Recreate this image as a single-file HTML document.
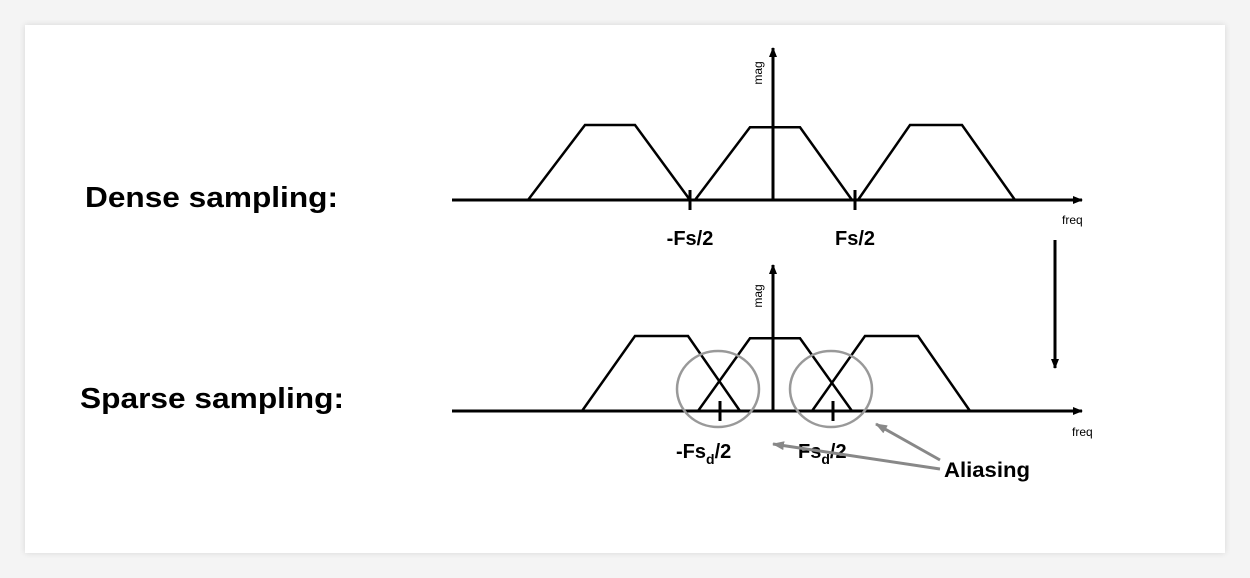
<!DOCTYPE html>
<html><head><meta charset="utf-8"><style>
html,body{margin:0;padding:0;background:#f4f4f4;width:1250px;height:578px;overflow:hidden}
#card{position:absolute;left:25px;top:25px;width:1200px;height:528px;background:#fff;box-shadow:0 0 6px rgba(0,0,0,0.12)}
svg{position:absolute;left:0;top:0}
text{font-family:"Liberation Sans",Arial,sans-serif}
</style></head><body>
<div id="card"></div>
<svg id="s" width="1250" height="578">
<defs>
<marker id="ah" markerWidth="10" markerHeight="8" refX="9" refY="4" orient="auto" markerUnits="userSpaceOnUse"><path d="M0,0 L10,4 L0,8 z" fill="#000"/></marker>
<marker id="ag" markerWidth="12" markerHeight="9" refX="11" refY="4.5" orient="auto" markerUnits="userSpaceOnUse"><path d="M0,0 L12,4.5 L0,9 z" fill="#888"/></marker>
</defs>
<text x="85" y="207" font-size="29" font-weight="bold" textLength="253" lengthAdjust="spacingAndGlyphs">Dense sampling:</text>
<text x="80" y="408" font-size="29" font-weight="bold" textLength="264" lengthAdjust="spacingAndGlyphs">Sparse sampling:</text>
<g id="plots"></g>
<line x1="1055" y1="240" x2="1055" y2="368" stroke="#000" stroke-width="3" marker-end="url(#ah)"/>
</svg>
<script>
// trapezoid spectra: [baseStart, topStart, topEnd, baseEnd] in frequency units
const denseSpectra=[[-245,-188,-138,-83],[-78,-23,27,79],[85,137,189,242]];
const sparseSpectra=[[-191,-138,-85,-33],[-75,-23,27,79],[39,92,145,197]];
const denseTicks=[-83,82];
const sparseTicks=[-53,60];
const denseTickLabels=["-Fs/2","Fs/2"];
const sparseTickLabels=["-Fs","Fs"];
const peakLevel=[1,0.98];
const g=document.getElementById('plots');
const NS='http://www.w3.org/2000/svg';
function el(t,a,p){const e=document.createElementNS(NS,t);for(const k in a)e.setAttribute(k,a[k]);(p||g).appendChild(e);return e;}
function panel(spectra,ticks,labels,axisY,level,sub,name){
  const x=f=>773+f;
  const y=v=>axisY-v*75;
  const grp=el('g',{});
  
  
  const xa=el('line',{x1:452,y1:axisY,x2:1082,y2:axisY,stroke:'#000','stroke-width':3,'marker-end':'url(#ah)'},grp);
  
  
  const ya=el('line',{x1:773,y1:axisY,x2:773,y2:axisY-(sub?146:152),stroke:'#000','stroke-width':3,'marker-end':'url(#ah)'},grp);
  
  
  spectra.forEach((s,i)=>{
    const lv=i===1?level[1]:level[0];
    const p=el('polyline',{points:`${x(s[0])},${axisY} ${x(s[1])},${y(lv)} ${x(s[2])},${y(lv)} ${x(s[3])},${axisY}`,fill:'none',stroke:'#000','stroke-width':2.5,'stroke-linejoin':'miter'},grp);
    
    
  });
  ticks.forEach((t,i)=>{
    const tk=el('line',{x1:x(t),y1:axisY-10,x2:x(t),y2:axisY+10,stroke:'#000','stroke-width':3},grp);
    
    
    const tx=el('text',{x:x(t)+(sub?(i?-35:-44):0),y:axisY+(sub?47:45),'font-size':20,'font-weight':'bold','text-anchor':sub?'start':'middle'},grp);
    
    
    if(sub){
      tx.textContent=labels[i];
      const ts=el('tspan',{dy:6,'font-size':14},tx);ts.textContent='d';
      const t2=el('tspan',{dy:-6},tx);t2.textContent='/2';
    } else tx.textContent=labels[i];
  });
  const m=el('text',{x:0,y:0,'font-size':12,transform:`translate(762,${axisY-(sub?115:127)}) rotate(-90)`,'text-anchor':'middle'},grp);
  m.textContent='mag';
  
  
  const f=el('text',{x:sub?1072:1062,y:axisY+(sub?25:24),'font-size':12},grp);
  f.textContent='freq';
  
  
  return {x,axisY};
}
panel(denseSpectra,denseTicks,denseTickLabels,200,[1,0.97],false,'dense-panel');
const sp=panel(sparseSpectra,sparseTicks,sparseTickLabels,411,[1,0.97],true,'sparse-panel');
sparseTicks.forEach((t,i)=>{
  const c=el('ellipse',{cx:sp.x(t)-2,cy:389,rx:41,ry:38,fill:'none',stroke:'#999','stroke-width':2.5});
  
  
});
const a1=el('line',{x1:940,y1:460,x2:876,y2:424,stroke:'#888','stroke-width':3,'marker-end':'url(#ag)'});


const a2=el('line',{x1:940,y1:469,x2:773,y2:444,stroke:'#888','stroke-width':3,'marker-end':'url(#ag)'});


const al=el('text',{x:944,y:477,'font-size':21,'font-weight':'bold',textLength:86,lengthAdjust:'spacingAndGlyphs'});
al.textContent='Aliasing';


</script>
</body></html>
